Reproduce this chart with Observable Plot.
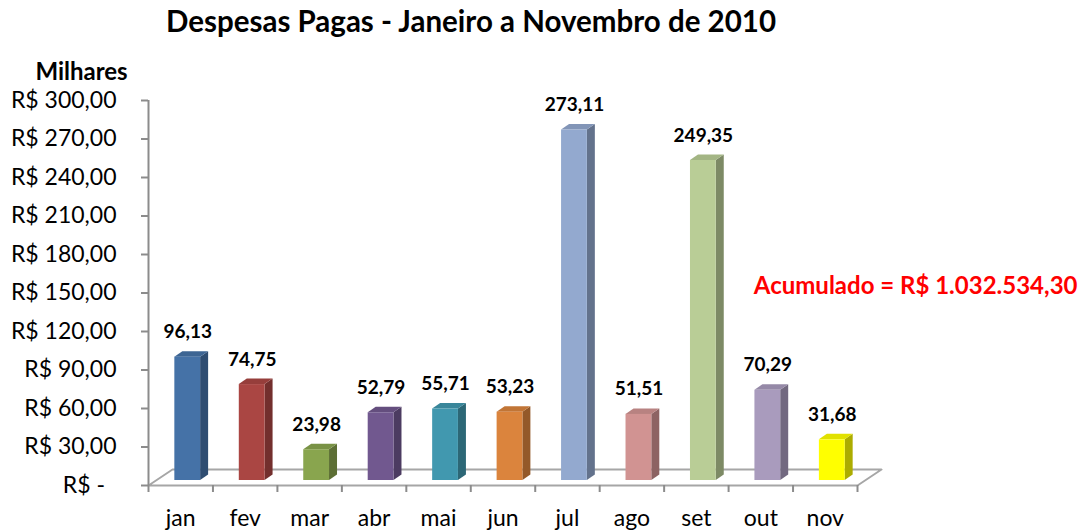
<!DOCTYPE html>
<html>
<head>
<meta charset="utf-8">
<script src="https://cdn.jsdelivr.net/npm/d3@7"></script>
<script src="https://cdn.jsdelivr.net/npm/@observablehq/plot@0.6"></script>
<style>
  html, body { margin: 0; padding: 0; background: #fff; }
  #chart svg { display: block; }
</style>
</head>
<body>
<div id="chart"></div>
<script>
// ---- data ----
const months = ["jan", "fev", "mar", "abr", "mai", "jun", "jul", "ago", "set", "out", "nov"];
const values = [96.13, 74.75, 23.98, 52.79, 55.71, 53.23, 273.11, 51.51, 249.35, 70.29, 31.68];
const colors = ["#4572A7", "#AA4643", "#89A54E", "#71588F", "#4198AF", "#DB843D",
                "#93A9CF", "#D19392", "#B9CD96", "#A99BBD", "#FFFF00"];
const yTicks = [0, 30, 60, 90, 120, 150, 180, 210, 240, 270, 300];
const title = "Despesas Pagas - Janeiro a Novembro de 2010";
const unitLabel = "Milhares";
const totalLabel = "Acumulado = R$ 1.032.534,30";

// ---- layout ----
const W = 1082, H = 531, mL = 148, mR = 225, mT = 100, mB = 46;
const pxX = (W - mL - mR) / months.length;
const pxY = (H - mT - mB) / 300;
const half = 0.2;                 // half bar width (band units)
const bdX = 8 / pxX, bdY = 5.5 / pxY;    // bar depth
const fdX = 24 / pxX, fdY = 16 / pxY;    // floor depth
const offX = 7, offY = -5;        // bar placement inside the floor
const font = "Lato";

const loc = d3.formatLocale({decimal: ",", thousands: ".", grouping: [3], currency: ["R$ ", ""]});
const fmt = loc.format(",.2f");

const bars = months.map((m, i) => ({
  i, m, v: values[i],
  front: colors[i],
  side: d3.color(colors[i]).darker(1.1).formatHex(),
  top: d3.color(colors[i]).darker(0.35).formatHex()
}));
const sidePts = bars.flatMap(b => [
  {i: b.i, x: b.i + 0.5 + half, y1: 0, y2: b.v, fill: b.side},
  {i: b.i, x: b.i + 0.5 + half + bdX, y1: bdY, y2: b.v + bdY, fill: b.side}
]);
const topPts = bars.flatMap(b => [
  {i: b.i, y: b.v, x1: b.i + 0.5 - half, x2: b.i + 0.5 + half, fill: b.top},
  {i: b.i, y: b.v + bdY, x1: b.i + 0.5 - half + bdX, x2: b.i + 0.5 + half + bdX, fill: b.top}
]);
const n = months.length;
const floor = [
  {x: 0, y: 0}, {x: n, y: 0}, {x: n + fdX, y: fdY}, {x: fdX, y: fdY}, {x: 0, y: 0}
];

const grey = "#8c8c8c";

const chart = Plot.plot({
  width: W, height: H,
  marginLeft: mL, marginRight: mR, marginTop: mT, marginBottom: mB,
  style: {fontFamily: font, background: "#fff", color: "#000"},
  x: {type: "linear", domain: [0, n], axis: null},
  y: {domain: [0, 300], axis: null},
  color: {type: "identity"},
  marks: [
    Plot.line(floor, {x: "x", y: "y", stroke: "#a6a6a6", strokeWidth: 2}),
    Plot.ruleX([0], {y1: 0, y2: 300, stroke: grey, strokeWidth: 2}),
    Plot.axisY({ticks: yTicks, tickSize: 7, tickPadding: 25, stroke: grey, strokeWidth: 2,
      fontSize: 23, fill: "#000",
      tickFormat: v => v === 0 ? "R$ -\u2002" : "R$ " + fmt(v)}),
    Plot.axisX({ticks: d3.range(0, n + 1), tickSize: 7, stroke: grey, strokeWidth: 2, tickFormat: () => ""}),
    Plot.text(months, {x: (d, i) => i + 0.5, y: 0, text: d => d, dy: 33, fontSize: 23,
      lineAnchor: "middle", fill: "#000"}),
    Plot.areaY(sidePts, {x: "x", y1: "y1", y2: "y2", z: "i", fill: "fill", dx: offX, dy: offY}),
    Plot.areaX(topPts, {y: "y", x1: "x1", x2: "x2", z: "i", fill: "fill", dx: offX, dy: offY}),
    Plot.rect(bars, {x1: d => d.i + 0.5 - half, x2: d => d.i + 0.5 + half, y1: 0, y2: "v",
      fill: "front", dx: offX, dy: offY}),
    Plot.text(bars, {x: d => d.i + 0.5, y: "v", text: d => fmt(d.v), dx: offX, dy: -30,
      fontSize: 19, fontWeight: "bold", lineAnchor: "middle", fill: "#000"}),
    Plot.text([totalLabel], {frameAnchor: "top-right", dx: 220, dy: 186, textAnchor: "end",
      lineAnchor: "middle", fontSize: 24, fontWeight: "bold", fill: "#ff0000"}),
    Plot.text([title], {frameAnchor: "top", dx: -32, dy: -78, lineAnchor: "middle",
      fontSize: 29.5, fontWeight: "bold", fill: "#000"}),
    Plot.text([unitLabel], {frameAnchor: "top-left", dx: -67, dy: -28, textAnchor: "middle",
      lineAnchor: "middle", fontSize: 24, fontWeight: "bold", fill: "#000"})
  ]
});
document.getElementById("chart").appendChild(chart);
</script>
</body>
</html>
